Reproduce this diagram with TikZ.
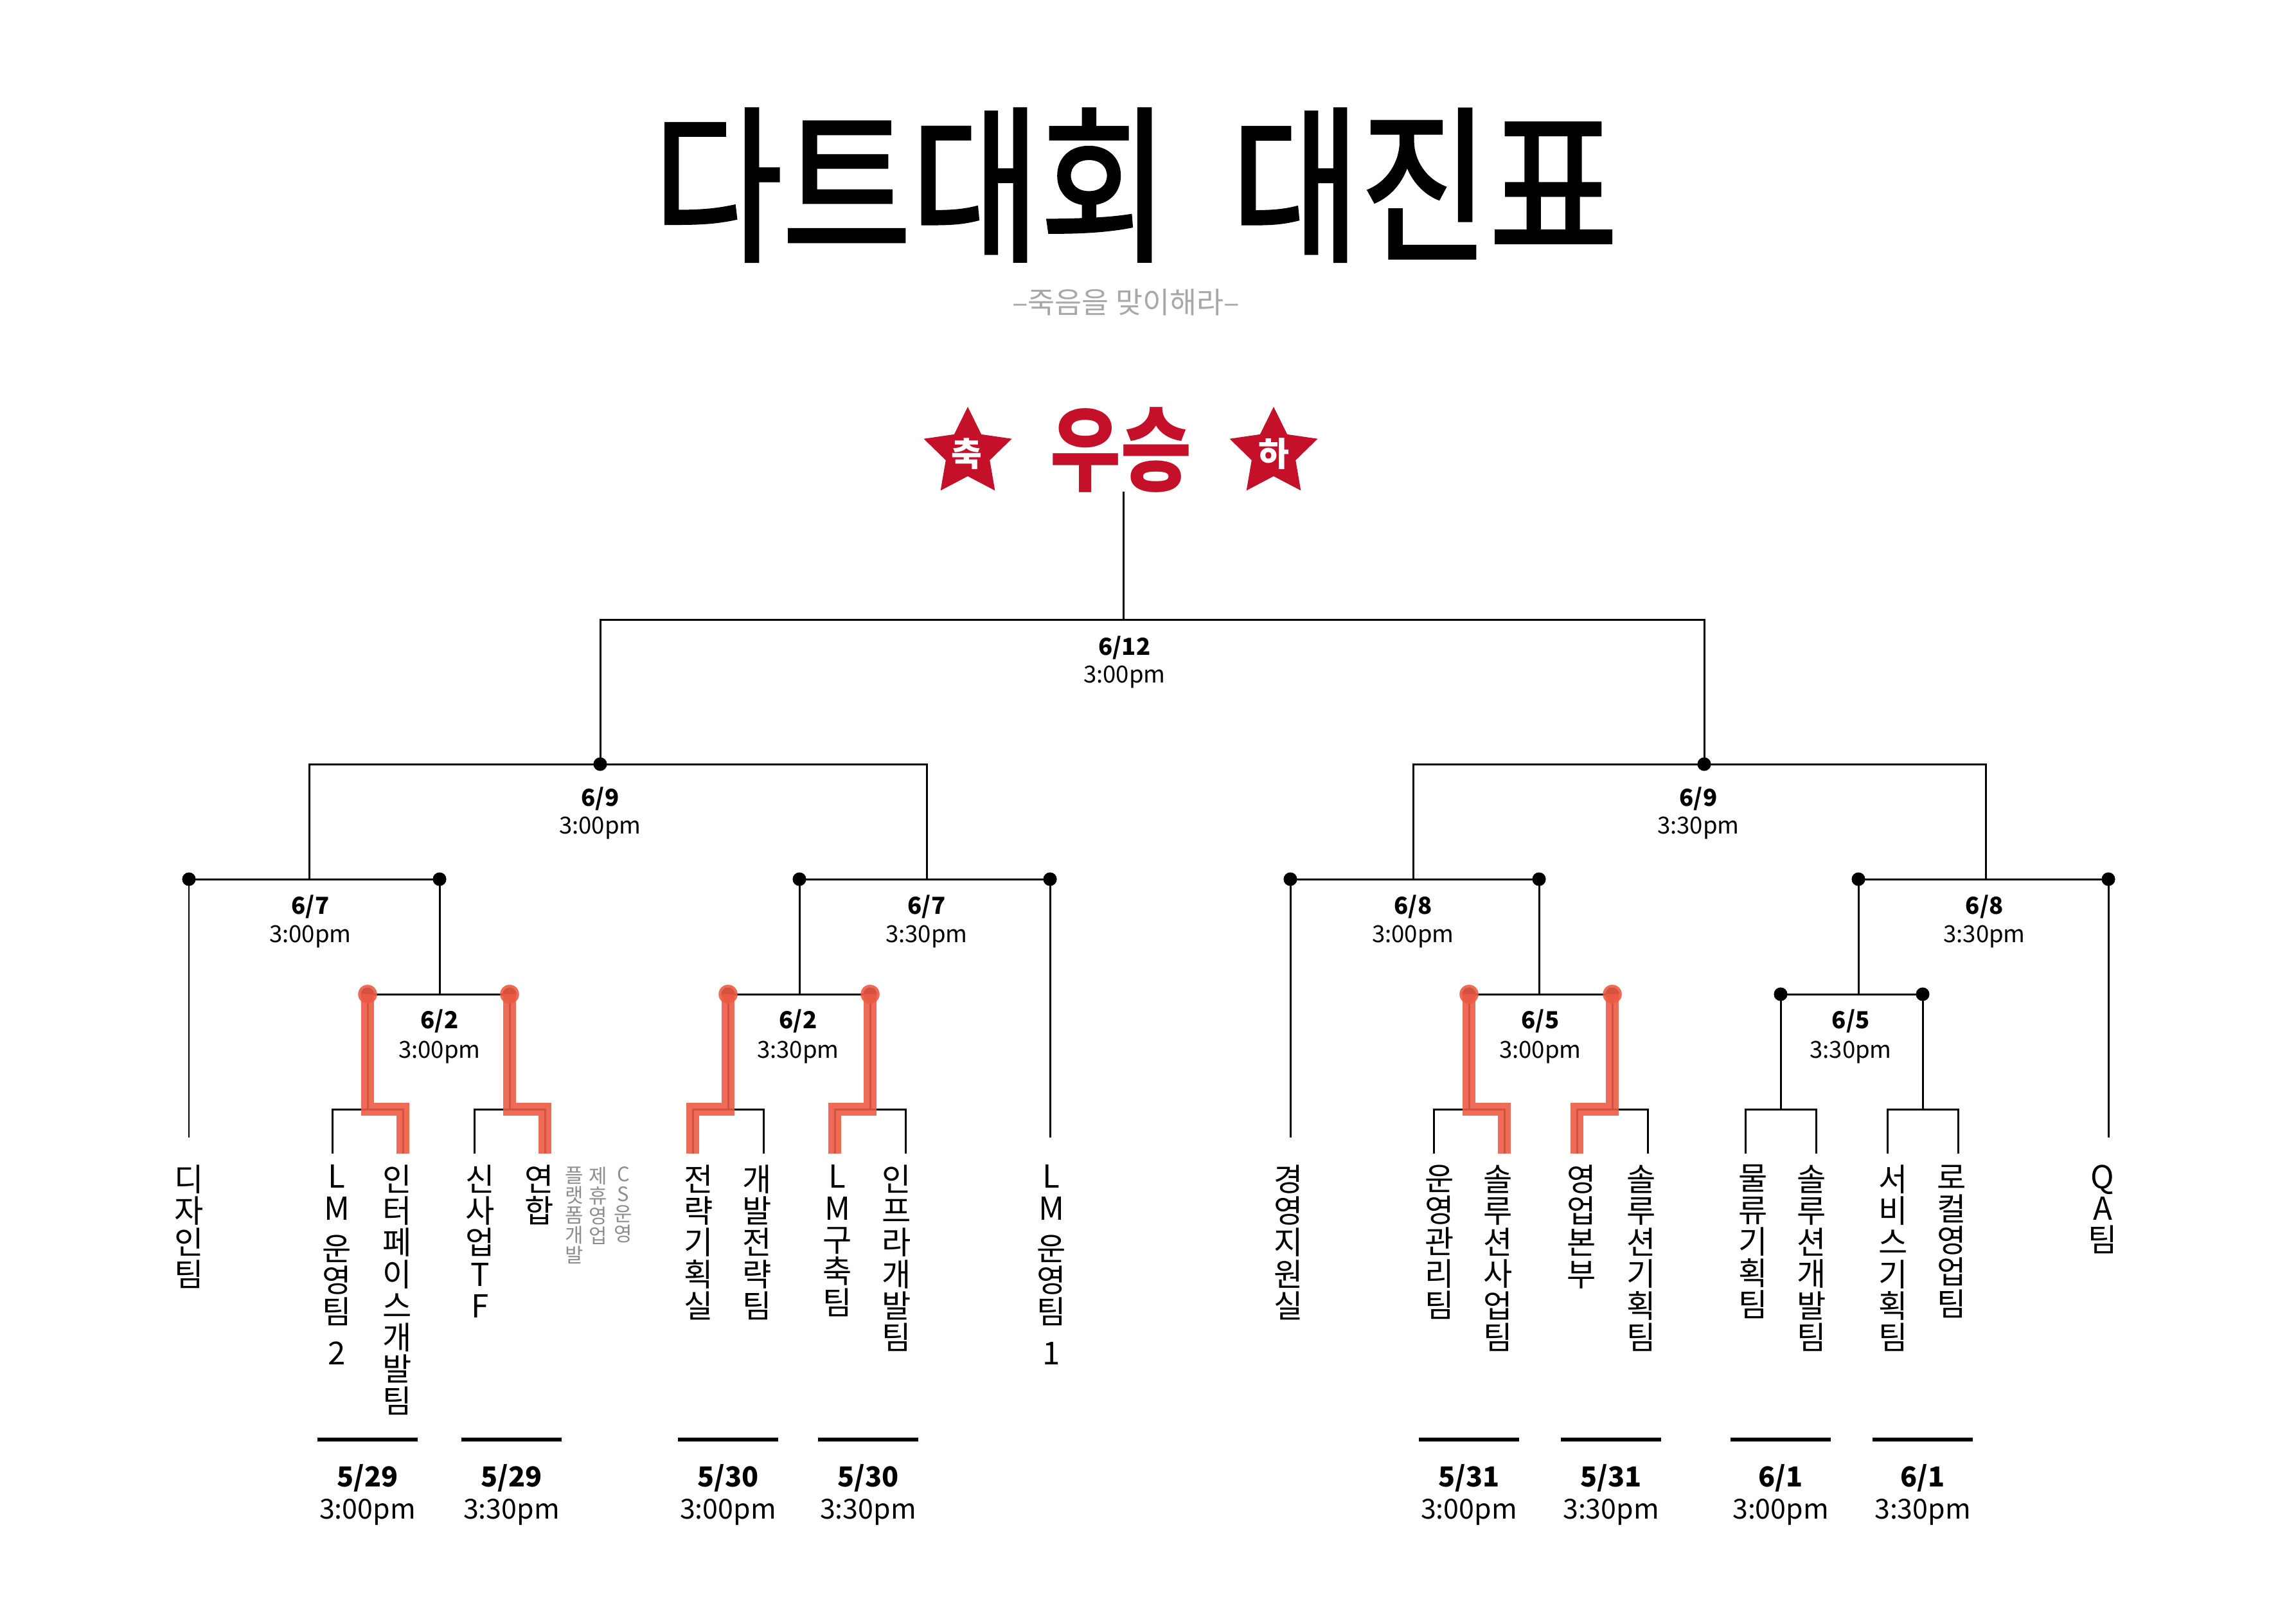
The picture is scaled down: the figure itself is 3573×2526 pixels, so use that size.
\documentclass[tikz,border=0pt]{standalone}
\usepackage{fontspec}
\setmainfont{Noto Sans}
\newfontfamily\kr{Noto Sans CJK KR}
\newfontfamily\krt{Noto Sans CJK KR}[FakeBold=2]
\usetikzlibrary{calc}
\definecolor{crimson}{HTML}{C41028}
\definecolor{winor}{HTML}{EC5B45}
\definecolor{subgrey}{HTML}{A8A8A8}
\definecolor{smallgrey}{HTML}{8E8E8E}
\tikzset{
  bk/.style={line width=0.85pt, black},
  winpath/.style={line width=5.9pt, winor, opacity=0.9},
  team/.style={anchor=north, inner sep=0pt, align=center, font=\kr\fontsize{14pt}{14pt}\selectfont},
  greytxt/.style={anchor=north, inner sep=0pt, align=center, text=smallgrey, font=\kr\fontsize{8.8pt}{8.8pt}\selectfont},
  dlab/.style={anchor=base, inner sep=0pt, font=\kr\bfseries\fontsize{10.4pt}{12pt}\selectfont},
  tlab/.style={anchor=base, inner sep=0pt, font=\kr\fontsize{10.4pt}{12pt}\selectfont},
  bdlab/.style={anchor=base, inner sep=0pt, font=\kr\bfseries\fontsize{12.2pt}{14pt}\selectfont},
  btlab/.style={anchor=base, inner sep=0pt, font=\kr\fontsize{12.2pt}{14pt}\selectfont},
  datebar/.style={line width=1.8pt, black},
  startxt/.style={inner sep=0pt, text=white, font=\kr\bfseries\fontsize{14.8pt}{16pt}\selectfont},
  titletxt/.style={inner sep=0pt, font=\krt\fontsize{62pt}{66pt}\selectfont},
}
\begin{document}
\begin{tikzpicture}[x=0.01cm, y=-0.01cm]
\fill[white] (0,0) rectangle (3573,2526);
\useasboundingbox (0,0) rectangle (3573,2526);

% ---- title ----
\node[titletxt] (title1) at (1418,288) {\scalebox{1}[1.2]{다트대회}};
\node[titletxt] (title2) at (2217,288) {\scalebox{1}[1.2]{대진표}};
\node[inner sep=0pt, text=subgrey, font=\kr\fontsize{13pt}{14pt}\selectfont] (subtitle) at (1752,470) {–죽음을 맞이해라–};

% ---- champion ----
\node[inner sep=0pt, text=crimson, font=\kr\bfseries\fontsize{34pt}{36pt}\selectfont] (champ) at (1744,700) {\scalebox{1}[1.2]{우승}};
\foreach \cx in {1506,1982}{
  \fill[crimson, shift={(\cx,705)}] (0,-72) -- (21.16,-29.12) -- (68.48,-22.25) -- (34.24,11.12) -- (42.32,58.25) -- (0,36) -- (-42.32,58.25) -- (-34.24,11.12) -- (-68.48,-22.25) -- (-21.16,-29.12) -- cycle;
}
\node[startxt] (chuk) at (1504,706) {축};
\node[startxt] (ha) at (1982,706) {하};

% ---- coordinates ----
\coordinate (W0) at (1748,765);
\coordinate (F) at (1748,964);
\coordinate (SL) at (934,1189);
\coordinate (SR) at (2652,1189);
\coordinate (QL1) at (481,1368);
\coordinate (QL2) at (1442,1368);
\coordinate (QR1) at (2199,1368);
\coordinate (QR2) at (3090,1368);
\coordinate (a1) at (294,1368);
\coordinate (r1) at (684,1368);
\coordinate (r2) at (1244,1368);
\coordinate (a2) at (1634,1368);
\coordinate (a3) at (2008,1368);
\coordinate (r3) at (2395,1368);
\coordinate (r4) at (2892,1368);
\coordinate (a4) at (3281,1368);
\coordinate (e1) at (294,1770);
\coordinate (e2) at (1634,1770);
\coordinate (e3) at (2008,1770);
\coordinate (e4) at (3281,1770);
\foreach \n/\c in {1/572,2/793,3/1133,4/1354,5/2286,6/2509,7/2771,8/2992}{
  \coordinate (p\n) at (\c,1547);
  \coordinate (b\n) at (\c,1726);
  \coordinate (tl\n) at (\c-55,1795);
  \coordinate (tr\n) at (\c+55,1795);
}

% ---- black bracket ----
\draw[bk] (W0) -- (F);
\draw[bk] (SL) |- (F) -| (SR);
\draw[bk] (QL1) |- (SL) -| (QL2);
\draw[bk] (QR1) |- (SR) -| (QR2);
\draw[bk] (a1) -- (r1);
\draw[bk] (r2) -- (a2);
\draw[bk] (a3) -- (r3);
\draw[bk] (r4) -- (a4);
\draw[bk] (a1) -- (e1);
\draw[bk] (a2) -- (e2);
\draw[bk] (a3) -- (e3);
\draw[bk] (a4) -- (e4);
\draw[bk] (r1) -- (r1 |- p1);
\draw[bk] (r2) -- (r2 |- p3);
\draw[bk] (r3) -- (r3 |- p5);
\draw[bk] (r4) -- (r4 |- p7);
\draw[bk] (p1) -- (p2);
\draw[bk] (p3) -- (p4);
\draw[bk] (p5) -- (p6);
\draw[bk] (p7) -- (p8);
\foreach \n in {1,...,8}{
  \draw[bk] (tl\n) |- (b\n) -| (tr\n);
  \draw[bk] (p\n) -- (b\n);
}
\foreach \d in {SL,SR,a1,r1,r2,a2,a3,r3,r4,a4,p1,p2,p3,p4,p5,p6,p7,p8}{
  \fill (\d) circle[radius=3pt];
}

% ---- winners ----
\draw[winpath] (p1) -- (b1) -| (tr1);
\draw[winpath] (p2) -- (b2) -| (tr2);
\draw[winpath] (p3) -- (b3) -| (tl3);
\draw[winpath] (p4) -- (b4) -| (tl4);
\draw[winpath] (p5) -- (b5) -| (tr5);
\draw[winpath] (p6) -- (b6) -| (tl6);
\foreach \d in {p1,p2,p3,p4,p5,p6}{
  \fill[winor, opacity=0.9] (\d) circle[radius=4.2pt];
}

% ---- match labels ----
\node[dlab] (f-d) at (1750,1019) {6/12};
\node[tlab] (f-t) at (1750,1062) {3:00pm};
\node[dlab] (s1-d) at (934,1254) {6/9};
\node[tlab] (s1-t) at (934,1297) {3:00pm};
\node[dlab] (s2-d) at (2643,1254) {6/9};
\node[tlab] (s2-t) at (2643,1297) {3:30pm};
\node[dlab] (q1-d) at (483,1422) {6/7};
\node[tlab] (q1-t) at (483,1466) {3:00pm};
\node[dlab] (q2-d) at (1442,1422) {6/7};
\node[tlab] (q2-t) at (1442,1466) {3:30pm};
\node[dlab] (q3-d) at (2199,1422) {6/8};
\node[tlab] (q3-t) at (2199,1466) {3:00pm};
\node[dlab] (q4-d) at (3088,1422) {6/8};
\node[tlab] (q4-t) at (3088,1466) {3:30pm};
\node[dlab] (m1-d) at (684,1600) {6/2};
\node[tlab] (m1-t) at (684,1646) {3:00pm};
\node[dlab] (m2-d) at (1242,1600) {6/2};
\node[tlab] (m2-t) at (1242,1646) {3:30pm};
\node[dlab] (m3-d) at (2397,1600) {6/5};
\node[tlab] (m3-t) at (2397,1646) {3:00pm};
\node[dlab] (m4-d) at (2880,1600) {6/5};
\node[tlab] (m4-t) at (2880,1646) {3:30pm};

% ---- teams ----
\node[team] (t01) at (294,1812) {디\\자\\인\\팀};
\node[team] (t02) at (524,1812) {L\\M\\[4pt]운\\영\\팀\\[4pt]2};
\node[team] (t03) at (618,1812) {인\\터\\페\\이\\스\\개\\발\\팀};
\node[team] (t04) at (747,1812) {신\\사\\업\\T\\F};
\node[team] (t05) at (839,1812) {연\\합};
\node[greytxt] (g1) at (894,1815) {플\\랫\\폼\\개\\발};
\node[greytxt] (g2) at (931,1815) {제\\휴\\영\\업};
\node[greytxt] (g3) at (970,1815) {C\\S\\운\\영};
\node[team] (t06) at (1087,1812) {전\\략\\기\\획\\실};
\node[team] (t07) at (1178,1812) {개\\발\\전\\략\\팀};
\node[team] (t08) at (1303,1812) {L\\M\\구\\축\\팀};
\node[team] (t09) at (1395,1812) {인\\프\\라\\개\\발\\팀};
\node[team] (t10) at (1636,1812) {L\\M\\[4pt]운\\영\\팀\\[4pt]1};
\node[team] (t11) at (2005,1812) {경\\영\\지\\원\\실};
\node[team] (t12) at (2240,1812) {운\\영\\관\\리\\팀};
\node[team] (t13) at (2331,1812) {솔\\루\\션\\사\\업\\팀};
\node[team] (t14) at (2461,1812) {영\\업\\본\\부};
\node[team] (t15) at (2554,1812) {솔\\루\\션\\기\\획\\팀};
\node[team] (t16) at (2728,1812) {물\\류\\기\\획\\팀};
\node[team] (t17) at (2819,1812) {솔\\루\\션\\개\\발\\팀};
\node[team] (t18) at (2946,1812) {서\\비\\스\\기\\획\\팀};
\node[team] (t19) at (3037,1812) {로\\컬\\영\\업\\팀};
\node[team] (t20) at (3272,1812) {Q\\A\\팀};

% ---- first round dates ----
\foreach \n/\c/\dd/\tt in {1/572/5\slash29/3:00pm, 2/796/5\slash29/3:30pm, 3/1133/5\slash30/3:00pm, 4/1351/5\slash30/3:30pm, 5/2286/5\slash31/3:00pm, 6/2507/5\slash31/3:30pm, 7/2771/6\slash1/3:00pm, 8/2992/6\slash1/3:30pm}{
  \coordinate (bl\n) at (\c-78,2240);
  \coordinate (br\n) at (\c+78,2240);
  \draw[datebar] (bl\n) -- (br\n);
  \node[bdlab] (bd\n) at (\c,2313) {\dd};
  \node[btlab] (bt\n) at (\c,2363) {\tt};
}
\end{tikzpicture}
\end{document}
